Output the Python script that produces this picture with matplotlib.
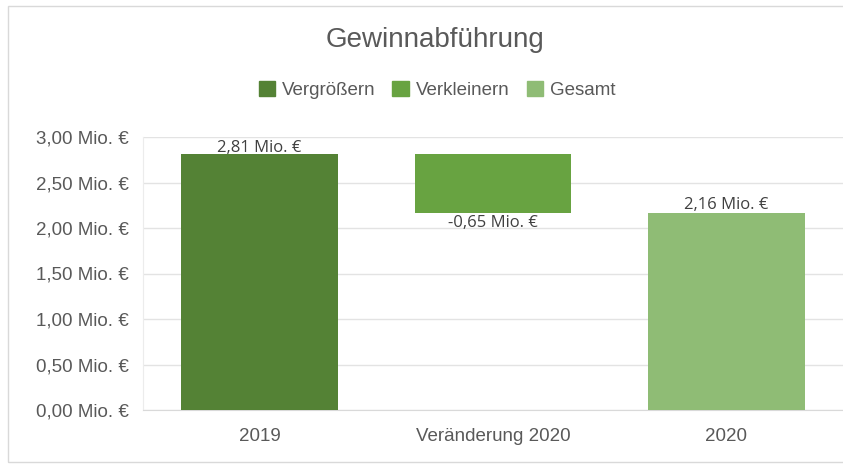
import matplotlib

matplotlib.use('Agg')

import matplotlib.pyplot as plt
from matplotlib.patches import Rectangle
from matplotlib.ticker import FuncFormatter

categories = ['2019', 'Veränderung 2020', '2020']
values = [2.81, -0.65, 2.16]
kinds = ['Vergrößern', 'Verkleinern', 'Gesamt']
colors = {'Vergrößern': '#548235', 'Verkleinern': '#68a341', 'Gesamt': '#8fbc75'}
yticks = [0, 0.5, 1.0, 1.5, 2.0, 2.5, 3.0]

plt.rcParams['font.family'] = ['Liberation Sans', 'DejaVu Sans']

fig = plt.figure(figsize=(8.43, 4.68), dpi=100)
fig.patches.append(Rectangle((8 / 843, 6 / 468), 1, 456 / 468, transform=fig.transFigure,
                             fill=False, edgecolor='#d9d9d9', lw=1))
ax = fig.add_axes([143 / 843, 1 - 410 / 468, 700 / 843, 273 / 468])

# waterfall bottoms / heights
bottoms = [0, values[0] + values[1], 0]
heights = [values[0], -values[1], values[2]]
x = range(len(categories))
for i in x:
    ax.bar(i, heights[i], bottom=bottoms[i], width=0.67, color=colors[kinds[i]], zorder=3)

def fmt(v):
    return ('%.2f' % v).replace('.', ',') + ' Mio. €'

lab_font = ['Open Sans', 'DejaVu Sans']
ax.text(0, values[0] - 0.02, fmt(values[0]), ha='center', va='bottom', fontsize=12,
        color='#404040', family=lab_font, zorder=4)
ax.text(1, bottoms[1] - 0.02, fmt(values[1]), ha='center', va='top', fontsize=12,
        color='#404040', family=lab_font, zorder=4)
ax.text(2, values[2] + 0.01, fmt(values[2]), ha='center', va='bottom', fontsize=12,
        color='#404040', family=lab_font, zorder=4)

ax.set_xlim(-0.5, 2.5)
ax.set_ylim(0, 3.0)
ax.set_yticks(yticks)
ax.yaxis.set_major_formatter(FuncFormatter(lambda v, p: fmt(v)))
ax.set_xticks(list(x))
ax.set_xticklabels(categories)
ax.tick_params(axis='both', length=0, labelsize=13.5, colors='#595959')
ax.tick_params(axis='y', pad=10)
ax.tick_params(axis='x', pad=13)
ax.grid(axis='y', color='#e3e3e3', lw=1, zorder=0)
for s in ['top', 'right']:
    ax.spines[s].set_visible(False)
ax.spines['left'].set_color('#ececec')
ax.spines['bottom'].set_color('#d9d9d9')

fig.text(435 / 843, 1 - 40 / 468, 'Gewinnabführung', ha='center', va='center',
         fontsize=20, color='#595959')

handles = [Rectangle((0, 0), 1, 1, color=colors[k]) for k in kinds]
fig.legend(handles, kinds, loc='center', bbox_to_anchor=(437 / 843, 1 - 90 / 468), ncol=3,
           frameon=False, fontsize=13.5, handlelength=0.9, handleheight=0.9, handletextpad=0.35,
           columnspacing=0.9, labelcolor='#595959')

fig.savefig('out.png', dpi=100)
